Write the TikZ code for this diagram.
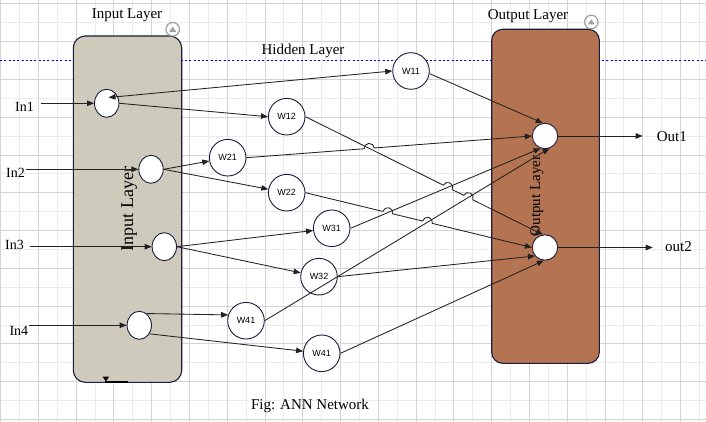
\documentclass[tikz,border=0pt]{standalone}
\usepackage{fontspec}
\setmainfont{Liberation Serif}
\newfontfamily\wfont{Liberation Sans}
\usetikzlibrary{arrows.meta,calc,shapes.geometric,intersections}

\definecolor{gridlight}{RGB}{236,236,236}
\definecolor{griddark}{RGB}{212,212,212}
\definecolor{inbox}{RGB}{206,203,188}
\definecolor{outbox}{RGB}{180,115,81}
\definecolor{navy}{RGB}{28,28,62}
\definecolor{edgecol}{RGB}{34,34,34}
\definecolor{icongrey}{RGB}{160,160,160}

\begin{document}
\begin{tikzpicture}[x=1pt,y=1pt,
  lbl/.style={font=\fontsize{15}{18}\selectfont, inner sep=0pt},
  inlbl/.style={font=\fontsize{14}{17}\selectfont, inner sep=0pt, anchor=base west},
  inode/.style={ellipse, draw=navy, fill=white, line width=0.9pt, minimum width=24.4pt, minimum height=28pt, inner sep=0pt},
  hnode/.style={circle, draw=navy, fill=white, line width=0.9pt, minimum size=36.6pt, inner sep=0pt, font=\wfont\fontsize{9}{10}\selectfont},
  onode/.style={circle, draw=navy, fill=white, line width=0.9pt, minimum size=25.4pt, inner sep=0pt},
  conn/.style={draw=edgecol, line width=0.85pt, -{Triangle[length=7pt,width=5.5pt]}},
  layerbox/.style={draw=navy, line width=1.1pt},
  minorgrid/.style={draw=gridlight, line width=0.9pt},
  majorgrid/.style={draw=griddark, line width=0.9pt},
]
\useasboundingbox (0,0) rectangle (706,-422);
\fill[white] (0,0) rectangle (706,-422);

% grid
\foreach \i in {0,...,18} { \draw[minorgrid] ({19.4+\i*37.78},0) -- ({19.4+\i*37.78},-422); }
\foreach \i in {0,...,10} { \draw[minorgrid] (0,{-22.8-\i*37.78}) -- (706,{-22.8-\i*37.78}); }
\foreach \i in {0,...,18} { \draw[majorgrid] ({0.5+\i*37.78},0) -- ({0.5+\i*37.78},-422); }
\foreach \i in {0,...,11} { \draw[majorgrid] (0,{-3.9-\i*37.78}) -- (706,{-3.9-\i*37.78}); }

% hidden layer dotted line
\draw[blue, line width=1pt, dash pattern=on 2pt off 2.3pt] (0,-60.3) -- (706,-60.3);

% layer boxes
\draw[layerbox, fill=inbox, rounded corners=12pt] (73.3,-36) rectangle (181.7,-382.3);
\draw[layerbox, fill=outbox, rounded corners=11pt] (491.7,-29.3) rectangle (599.3,-363.3);

% collapse icons
\draw[icongrey, line width=1.2pt] (172.7,-29.3) circle (6.8);
\fill[icongrey] (169.3,-31.8) -- (176.1,-31.8) -- (172.7,-26.6) -- cycle;
\draw[icongrey, line width=1.2pt] (591.3,-22) circle (6.8);
\fill[icongrey] (587.9,-24.5) -- (594.7,-24.5) -- (591.3,-19.3) -- cycle;

% bottom marker
\fill[black] (102.7,-376.7) -- (109,-376.7) -- (105.8,-381.5) -- cycle;
\draw[black, line width=1.6pt] (105,-381.7) -- (128.3,-381.7);

% labels
\node[lbl, anchor=base] (tIn) at (127,-19) {Input Layer};
\node[lbl, anchor=base] (tOut) at (528,-20) {Output Layer};
\node[lbl, anchor=base] (tHid) at (303,-55) {Hidden Layer};
\node[lbl, anchor=base, rotate=90, font=\fontsize{18}{20}\selectfont] (rIn) at (133,-209) {Input Layer};
\node[lbl, anchor=base, rotate=90] (rOut) at (540,-196) {Output Layer};
\node[lbl, anchor=base] (cap) at (310,-409) {Fig: ANN Network};

\node[inlbl] (In1) at (15,-111.5) {In1};
\node[inlbl] (In2) at (6,-177.3) {In2};
\node[inlbl] (In3) at (5,-249) {In3};
\node[inlbl] (In4) at (9.3,-335) {In4};
\node[lbl, anchor=base west] (Out1) at (656.7,-141.7) {Out1};
\node[lbl, anchor=base west] (out2) at (665,-251.7) {out2};

% nodes
\node[inode] (I1) at (106.7,-103.3) {};
\node[inode] (I2) at (151,-169.3) {};
\node[inode] (I3) at (164.3,-246.7) {};
\node[inode] (I4) at (139.3,-325.3) {};
\node[hnode] (W11) at (411,-71) {W11};
\node[hnode] (W12) at (286.7,-116.7) {W12};
\node[hnode] (W21) at (227.7,-157.7) {W21};
\node[hnode] (W22) at (286.7,-192.7) {W22};
\node[hnode] (W31) at (331.7,-228.3) {W31};
\node[hnode] (W32) at (319,-276.7) {W32};
\node[hnode] (W41a) at (246,-320.7) {W41};
\node[hnode] (W41b) at (321.7,-353.3) {W41};
\node[onode] (O1) at (545,-136) {};
\node[onode] (O2) at (545,-247.5) {};

% input arrows
\draw[conn] ([xshift=7pt]In1.east |- I1) -- (I1.west);
\draw[conn] ([xshift=1pt]In2.east |- I2) -- (I2.west);
\draw[conn] ([xshift=6pt]In3.east |- I3) -- (I3.west);
\draw[conn] ([xshift=1pt]In4.east |- I4) -- (I4.west);

% output arrows
\draw[conn] (O1.east) -- ([xshift=-14pt]Out1.west |- O1);
\draw[conn] (O2.east) -- ([xshift=-12.3pt]out2.west |- O2);

% input -> hidden
\coordinate (I1in) at (108.5,-97.5);
\draw[conn, {Triangle[length=7pt,width=5.5pt]}-{Triangle[length=7pt,width=5.5pt]}] (I1in) -- (W11.west);
\draw[conn] (I1.east) -- (W12.west);
\draw[conn] (I2.east) -- (W21);
\draw[conn] (I2.east) -- (W22);
\draw[conn] (I3.east) -- (W31);
\draw[conn] (I3.east) -- (W32);
\draw[conn] (I4.58) -- (W41a.162);
\draw[conn] (I4.-40) -- (W41b);

% hidden -> output (plain)
\draw[conn] (W11.-8) -- (O1.100);
\draw[conn, name path=p31] (W31.east) -- (O1.250);
\draw[conn, name path=p41] (W41a.east) -- (O1.290);
\draw[conn] (W32.east) -- (O2.220);
\draw[conn] (W41b.east) -- (O2.265);

% paths for hops
\path[name path=p12] (W12.east) -- (O2.100);
\path[name path=p21] (W21.east) -- (O1.180);
\path[name path=p22] (W22.east) -- (O2.180);
\path[name intersections={of=p21 and p12, by=h1}];
\path[name intersections={of=p12 and p31, by=h2}];
\path[name intersections={of=p12 and p41, by=h3}];
\path[name intersections={of=p22 and p31, by=h4}];
\path[name intersections={of=p22 and p41, by=h5}];

% hidden -> output with line hops
\draw[conn] let \p1=($(O1.180)-(W21.east)$), \n1={atan2(\y1,\x1)} in
  (W21.east) -- ($(h1)!5pt!(W21.east)$) arc[start angle=\n1+180, end angle=\n1, radius=5pt] -- (O1.180);
\draw[conn] let \p1=($(O2.100)-(W12.east)$), \n1={atan2(\y1,\x1)} in
  (W12.east) -- ($(h2)!5pt!(W12.east)$) arc[start angle=\n1+180, end angle=\n1, radius=5pt]
  -- ($(h3)!5pt!(W12.east)$) arc[start angle=\n1+180, end angle=\n1, radius=5pt] -- (O2.100);
\draw[conn] let \p1=($(O2.180)-(W22.east)$), \n1={atan2(\y1,\x1)} in
  (W22.east) -- ($(h4)!5pt!(W22.east)$) arc[start angle=\n1+180, end angle=\n1, radius=5pt]
  -- ($(h5)!5pt!(W22.east)$) arc[start angle=\n1+180, end angle=\n1, radius=5pt] -- (O2.180);
\end{tikzpicture}
\end{document}
